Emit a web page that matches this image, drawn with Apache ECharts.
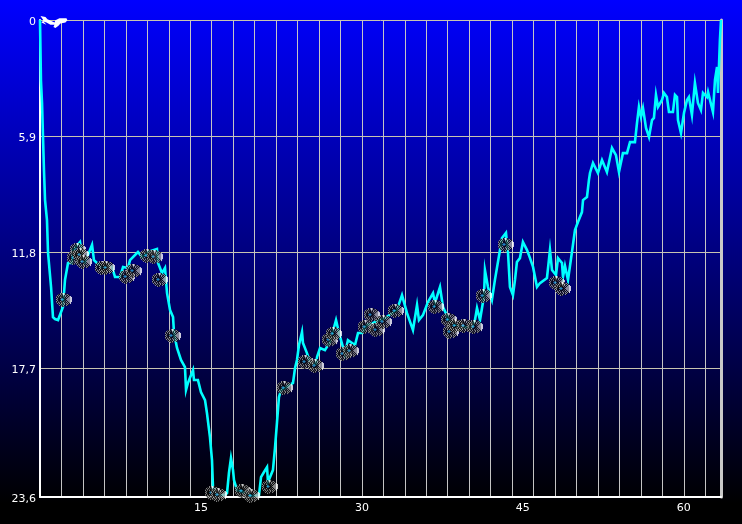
<!DOCTYPE html>
<html>
<head>
<meta charset="utf-8">
<style>html,body{margin:0;padding:0;background:#000}#c{width:742px;height:524px}</style>
<script src="https://cdn.jsdelivr.net/npm/echarts@6/dist/echarts.min.js"></script>
</head>
<body>
<div id="c"></div>
<script>
var xLabels = [15, 30, 45, 60];
var yTickValues = [0, 5.9, 11.8, 17.7, 24.26];
var yTickLabels = ['0', '5,9', '11,8', '17,7', '23,6'];
var timeValues = [0,.09,.09,.19,.28,.37,.47,.65,.75,1.03,1.21,1.40,1.68,2.14,2.33,2.61,2.98,3.08,3.73,3.91,4.19,4.47,4.85,5.03,5.31,5.87,6.34,6.71,6.99,7.46,7.74,8.20,8.39,9.13,9.51,10.07,10.90,11.00,11.37,11.65,11.84,12.12,12.40,12.49,12.77,13.14,13.51,13.61,13.79,14.26,14.35,14.72,15.00,15.38,15.56,15.84,16.03,16.12,16.40,17.24,17.43,17.61,17.80,17.99,18.08,18.36,18.92,19.76,20.41,20.60,20.88,21.16,21.25,21.71,21.90,22.09,22.27,22.46,22.83,23.58,23.77,23.95,24.14,24.42,24.51,24.88,25.16,25.72,25.82,26.10,26.56,27.03,27.59,27.87,28.42,28.70,29.36,29.64,30.01,30.48,31.03,32.15,33.27,33.74,34.20,34.76,35.14,35.32,35.69,36.16,36.63,36.81,37.28,37.56,38.12,38.68,39.42,40.26,40.54,40.73,41.01,41.38,41.47,41.75,42.12,42.40,42.87,43.06,43.43,43.62,43.80,44.08,44.27,44.45,44.73,45.01,45.39,45.67,45.95,46.32,46.60,47.25,47.53,47.72,48.09,48.28,48.65,48.74,48.93,49.21,49.58,49.86,50.14,50.51,50.61,50.98,51.16,51.26,51.54,52.00,52.38,52.84,53.31,53.68,53.96,54.33,54.71,54.99,55.45,55.64,55.82,56.01,56.20,56.48,56.76,57.04,57.22,57.41,57.60,57.97,58.15,58.43,58.62,58.99,59.18,59.37,59.46,59.74,60.02,60.30,60.48,60.76,61.04,61.32,61.60,61.79,62.16,62.26,62.72,62.91,63.10,63.19,63.37,63.47];
var depthValues = [0,0,3.10,4.22,5.95,7.63,9.16,10.17,11.85,13.58,15.11,15.21,15.26,14.60,13.22,12.36,12.36,11.70,11.29,11.95,12.31,11.95,11.44,12.21,12.36,12.61,12.51,12.56,13.07,13.07,12.56,12.61,12.21,11.80,12.06,11.80,11.65,12.36,12.87,12.61,13.89,14.75,15.11,15.92,16.68,17.29,17.65,18.82,18.46,17.80,18.31,18.31,18.92,19.33,19.99,21.21,22.38,23.75,24.16,24.16,24.06,23.04,22.28,22.89,23.40,23.91,24.01,24.21,24.16,23.25,22.99,22.74,23.50,22.89,21.77,20.45,19.18,18.82,18.72,18.46,17.70,17.29,16.53,15.87,16.43,16.94,17.40,17.50,17.14,16.68,16.79,16.38,15.26,15.92,16.99,16.28,16.53,15.92,15.92,15.51,15.41,15.16,14.75,13.99,14.90,15.77,14.50,15.26,15.01,14.34,13.89,14.39,13.58,14.60,15.26,15.51,15.62,15.62,15.26,14.65,15.26,14.04,12.72,13.58,14.24,13.22,11.70,11.09,10.83,11.85,13.58,13.99,13.22,12.31,12.11,11.29,11.70,12.11,12.56,13.58,13.38,13.12,11.70,12.72,12.97,12.11,12.36,13.07,12.51,13.22,11.80,10.68,10.27,9.77,9.16,9.00,8.14,7.78,7.27,7.78,7.12,7.73,6.51,6.87,7.73,6.77,6.77,6.21,6.21,5.24,4.42,4.93,4.48,5.49,5.95,5.09,4.98,3.81,4.42,4.07,3.71,3.92,4.68,4.68,3.81,3.92,5.09,5.75,4.73,4.07,3.92,4.83,3.20,4.22,4.58,3.71,3.92,3.66,4.68,3.05,2.39,3.71,1.02,0];
var photoTimes = [2.24,3.54,3.26,3.82,4.10,5.87,6.24,8.11,8.76,10.07,10.72,11.18,12.40,16.12,16.68,18.92,19.76,21.44,22.83,24.79,25.72,27.03,27.40,28.33,28.98,30.38,30.94,31.41,32.06,33.18,36.91,38.12,38.30,38.77,39.61,40.54,41.38,43.43,48.18,48.74];
var photoDepths = [14.24,11.70,12.11,11.95,12.31,12.61,12.61,13.07,12.77,12.00,12.06,13.22,16.07,24.06,24.16,23.96,24.21,23.75,18.72,17.40,17.60,16.28,15.97,16.99,16.84,15.62,15.01,15.77,15.36,14.80,14.60,15.26,15.87,15.56,15.56,15.62,14.04,11.44,13.38,13.68];
var diverPoint = [1.3, 0.1];

function zip(a, b) { return a.map(function (v, i) { return [v, b[i]]; }); }

// small pixel-art camera icon
var cameraRows = [
  '....gkgwgk......',
  '..dkgkdwgkdgk...',
  '.gkgkdkgkgdkgk..',
  'dkgkdkkdkgkgkgw.',
  'gkdkgkkkdkgkggww',
  'kgkkkbbkkdkgggww',
  'gdkkbccbkkggggww',
  'kgkkkbbkkdkgggww',
  'gkdkgkkkdkgkggww',
  'dkgdkdkgkdkgkgw.',
  '.gkgkgkdgkgkgkw.',
  '..dkgkdkgkdgk...',
  '...gkdkgk.gk....',
  '.....gkd........'
];
var cameraColors = { k: '#0a0a0a', d: '#4a4a4a', g: '#a8a8a8', w: '#ffffff', b: '#1f6a96', c: '#2fa8d8' };
function cameraImage() {
  var cv = document.createElement('canvas');
  cv.width = 16; cv.height = 14;
  var ctx = cv.getContext('2d');
  cameraRows.forEach(function (row, y) {
    row.split('').forEach(function (ch, x) {
      if (cameraColors[ch]) { ctx.fillStyle = cameraColors[ch]; ctx.fillRect(x, y, 1, 1); }
    });
  });
  return 'image://' + cv.toDataURL();
}
var diverPath = 'path://M0 0 L5 1 L7 3 L12 5 L14 6 L15 4 L19 2 L26 2 L27 4 L25 6 L20 7 L18 9 L15 11 L13 10 L14 8 L10 8 L6 6 L3 5 L6 8 L1 6 L3 4 Z';

var chart = echarts.init(document.getElementById('c'), null, { renderer: 'canvas' });
var font = { color: '#ffffff', fontFamily: 'DejaVu Sans', fontSize: 11 };
var XMAX = 63.47, YMAX = 24.26;
chart.setOption({
  animation: false,
  backgroundColor: { type: 'linear', x: 0, y: 0, x2: 0, y2: 1, colorStops: [
    { offset: 0, color: '#0000ff' }, { offset: 0.96, color: '#000000' }, { offset: 1, color: '#000000' }] },
  grid: { left: 40, top: 20, width: 681, height: 477, containLabel: false },
  xAxis: [
    { type: 'value', min: 0, max: XMAX, interval: 2, position: 'bottom',
      axisLine: { show: true, onZero: false, lineStyle: { color: '#ffffff', width: 2 } },
      axisTick: { show: false }, axisLabel: { show: false },
      splitLine: { show: true, showMinLine: false, showMaxLine: false, lineStyle: { color: '#c4c4c4', width: 1 } } },
    { type: 'value', min: 0, max: XMAX, position: 'bottom',
      axisLine: { show: false }, axisTick: { show: false, customValues: xLabels },
      axisLabel: Object.assign({ show: true, customValues: xLabels, margin: 6, hideOverlap: false }, font),
      splitLine: { show: false } }
  ],
  yAxis: [
    { type: 'value', inverse: true, min: 0, max: YMAX, position: 'left',
      axisLine: { show: true, onZero: false, lineStyle: { color: '#ffffff', width: 2 } },
      axisTick: { show: false, customValues: yTickValues },
      axisLabel: Object.assign({ show: true, customValues: yTickValues, margin: 4, align: 'right',
        rich: { a: { color: '#ffffff', fontFamily: 'DejaVu Sans', fontSize: 11, padding: [4, 0, 0, 0] } },
        formatter: function (v) { var i = yTickValues.indexOf(v); return i >= 0 ? '{a|' + yTickLabels[i] + '}' : ''; } }, font),
      splitLine: { show: true, showMaxLine: false, lineStyle: { color: '#c8c4b0', width: 1 } } },
    { type: 'value', inverse: true, min: 0, max: YMAX, position: 'right',
      axisLine: { show: true, onZero: false, lineStyle: { color: '#c8c8c8', width: 3 } },
      axisTick: { show: false }, axisLabel: { show: false }, splitLine: { show: false } }
  ],
  series: [
    { type: 'line', data: zip(timeValues, depthValues), showSymbol: false, symbol: 'none', smooth: false, clip: false,
      lineStyle: { color: '#00ffff', width: 2.6, join: 'miter' }, z: 3, silent: true },
    { type: 'scatter', data: zip(photoTimes, photoDepths), symbol: cameraImage(), symbolSize: [16, 14], clip: false, z: 5, silent: true },
    { type: 'scatter', data: [diverPoint], symbol: diverPath, symbolSize: [27, 12], clip: false, z: 6, silent: true,
      itemStyle: { color: '#ffffff', opacity: 1 } }
  ]
});
</script>
</body>
</html>
